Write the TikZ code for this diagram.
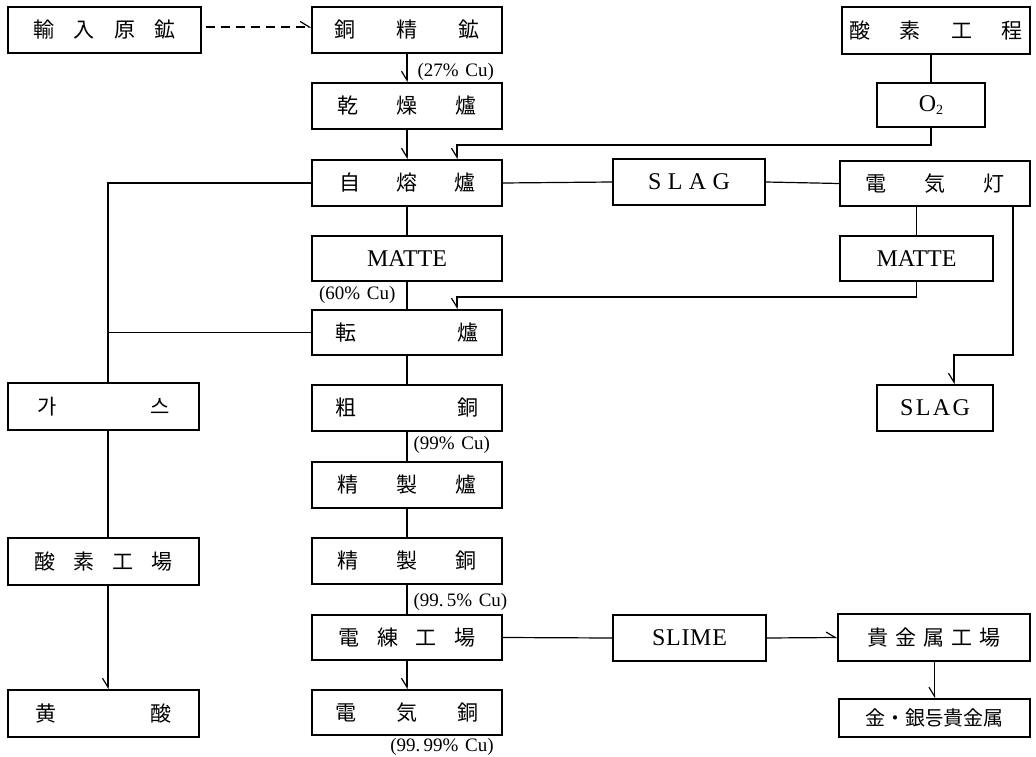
\documentclass[tikz,border=0pt]{standalone}
\usepackage{fontspec}
\setmainfont{Liberation Serif}
\newfontfamily\cjk{Noto Sans CJK JP}
\usetikzlibrary{arrows.meta}
\newcommand\sprd[2]{\hbox to #1pt{#2}}
\begin{document}
\begin{tikzpicture}[x=1pt,y=-1pt,
  line width=1.2pt,
  box/.style={draw, line width=1.3pt, inner sep=0pt, anchor=center},
  cj/.style={font=\cjk\fontsize{21}{24}\selectfont},
  lat/.style={font=\fontsize{24}{28}\selectfont},
  lbl/.style={font=\fontsize{19}{22}\selectfont, inner sep=0pt},
  darr/.style={-{Straight Barb[harpoon,swap,length=9pt,width=11pt,line width=1.2pt]}},
  rarr/.style={-{Straight Barb[harpoon,length=9pt,width=11pt,line width=1.2pt]}}]
\useasboundingbox (0,0) rectangle (1036,757);
\fill[white] (0,0) rectangle (1036,757);
% left column
\node[box,cj,minimum width=193pt,minimum height=46pt] (yunyu) at (104.5,30) {\sprd{142}{輸\hfill 入\hfill 原\hfill 鉱}};
\node[box,cj,minimum width=191pt,minimum height=47pt] (gas) at (103.5,406.5) {\sprd{133}{가\hfill 스}};
\node[box,cj,minimum width=191pt,minimum height=47pt] (yangchang) at (103.5,561.5) {\sprd{138}{酸\hfill 素\hfill 工\hfill 場}};
\node[box,cj,minimum width=191pt,minimum height=47pt] (huang) at (103.5,713.5) {\sprd{136}{黄\hfill 酸}};
% centre column
\node[box,cj,minimum width=190pt,minimum height=46pt] (tong) at (407,30) {\sprd{145}{銅\hfill 精\hfill 鉱}};
\node[box,cj,minimum width=190pt,minimum height=46pt] (ganzao) at (407,106) {\sprd{140}{乾\hfill 燥\hfill 爐}};
\node[box,cj,minimum width=190pt,minimum height=46pt] (zirong) at (407,183) {\sprd{136}{自\hfill 熔\hfill 爐}};
\node[box,lat,minimum width=190pt,minimum height=45pt] (matte1) at (407,258.5) {MATTE};
\node[box,cj,minimum width=190pt,minimum height=45pt] (zhuan) at (407,332.5) {\sprd{143}{転\hfill 爐}};
\node[box,cj,minimum width=190pt,minimum height=46pt] (cu) at (407,408) {\sprd{143}{粗\hfill 銅}};
\node[box,cj,minimum width=190pt,minimum height=46pt] (jinglu) at (407,485) {\sprd{140}{精\hfill 製\hfill 爐}};
\node[box,cj,minimum width=190pt,minimum height=46pt] (jingtong) at (407,561) {\sprd{140}{精\hfill 製\hfill 銅}};
\node[box,cj,minimum width=190pt,minimum height=45pt] (dianlian) at (407,637.5) {\sprd{137}{電\hfill 練\hfill 工\hfill 場}};
\node[box,cj,minimum width=190pt,minimum height=45pt] (dianqi) at (407,712.5) {\sprd{143}{電\hfill 気\hfill 銅}};
% middle-right
\node[box,lat,minimum width=152pt,minimum height=46pt] (slag1) at (689,182) {\sprd{82}{S\hfill L\hfill A\hfill G}};
\node[box,lat,minimum width=153pt,minimum height=46pt] (slime) at (689.5,638) {\sprd{75}{S\hfill L\hfill I\hfill M\hfill E}};
% right column
\node[box,cj,minimum width=188pt,minimum height=47pt] (yangcheng) at (936,30.5) {\sprd{174}{酸\hfill 素\hfill 工\hfill 程}};
\node[box,lat,minimum width=108pt,minimum height=44pt] (o2) at (931,105) {O\raisebox{-0.3ex}{\fontsize{14}{14}\selectfont 2}};
\node[box,cj,minimum width=190pt,minimum height=45pt] (dqd) at (935,183.5) {\sprd{140}{電\hfill 気\hfill 灯}};
\node[box,lat,minimum width=153pt,minimum height=45pt] (matte2) at (916.5,258.5) {MATTE};
\node[box,lat,minimum width=116pt,minimum height=46pt] (slag2) at (935,408) {\sprd{70}{S\hfill L\hfill A\hfill G}};
\node[box,cj,minimum width=192pt,minimum height=47pt] (gjs) at (934,637.5) {\sprd{133}{貴\hfill 金\hfill 属\hfill 工\hfill 場}};
\node[box,cj,font=\cjk\fontsize{20}{24}\selectfont,minimum width=191pt,minimum height=38pt] (jinyin) at (934.5,718) {金・銀등貴金属};
% labels
\node[lbl,anchor=west] (l27) at (417,72) {(27\%\hspace{0.35em}Cu)};
\node[lbl,anchor=east] (l60) at (396,295) {(60\%\hspace{0.35em}Cu)};
\node[lbl,anchor=west] (l99) at (413,445) {(99\%\hspace{0.35em}Cu)};
\node[lbl,anchor=west] (l995) at (413,602) {(99.\,5\%\hspace{0.35em}Cu)};
\node[lbl] (l9999) at (442,747) {(99.\,99\%\hspace{0.35em}Cu)};
% coordinates
\coordinate (g1) at (108,183);
\coordinate (o2c) at (457,145);
\coordinate (m2c) at (457,297);
\coordinate (s2a) at (1013,355);
\coordinate (s2b) at (954,355);
% connectors
\draw[rarr,dashed,dash pattern=on 9pt off 6pt] ([xshift=4pt,yshift=3pt]yunyu.east) -- ([yshift=3pt]tong.west);
\draw[darr] (tong.south) -- (ganzao.north);
\draw[darr] (ganzao.south) -- (zirong.north);
\draw (yangcheng.south -| o2.north) -- (o2.north);
\draw[darr] (o2.south) |- (o2c) -- (o2c |- zirong.north);
\draw (zirong.east) -- (slag1.west);
\draw (slag1.east) -- (dqd.west);
\draw (zirong.west) -- (g1) -- (g1 |- gas.north);
\draw (zhuan.west) -- (zhuan.west -| g1);
\draw (g1 |- gas.south) -- (g1 |- yangchang.north);
\draw[darr] (g1 |- yangchang.south) -- (g1 |- huang.north);
\draw (zirong.south) -- (matte1.north);
\draw (matte1.south) -- (zhuan.north);
\draw (dqd.south -| matte2.north) -- (matte2.north);
\draw[darr] (matte2.south) |- (m2c) -- (m2c |- zhuan.north);
\draw[darr] (dqd.south -| s2a) -- (s2a) -- (s2b) -- (s2b |- slag2.north);
\draw (zhuan.south) -- (cu.north);
\draw (cu.south) -- (jinglu.north);
\draw (jinglu.south) -- (jingtong.north);
\draw (jingtong.south) -- (dianlian.north);
\draw[darr] (dianlian.south) -- (dianqi.north);
\draw (dianlian.east) -- (slime.west);
\draw[rarr] (slime.east) -- (gjs.west);
\draw[darr] (gjs.south -| jinyin.north) -- (jinyin.north);
\end{tikzpicture}
\end{document}
